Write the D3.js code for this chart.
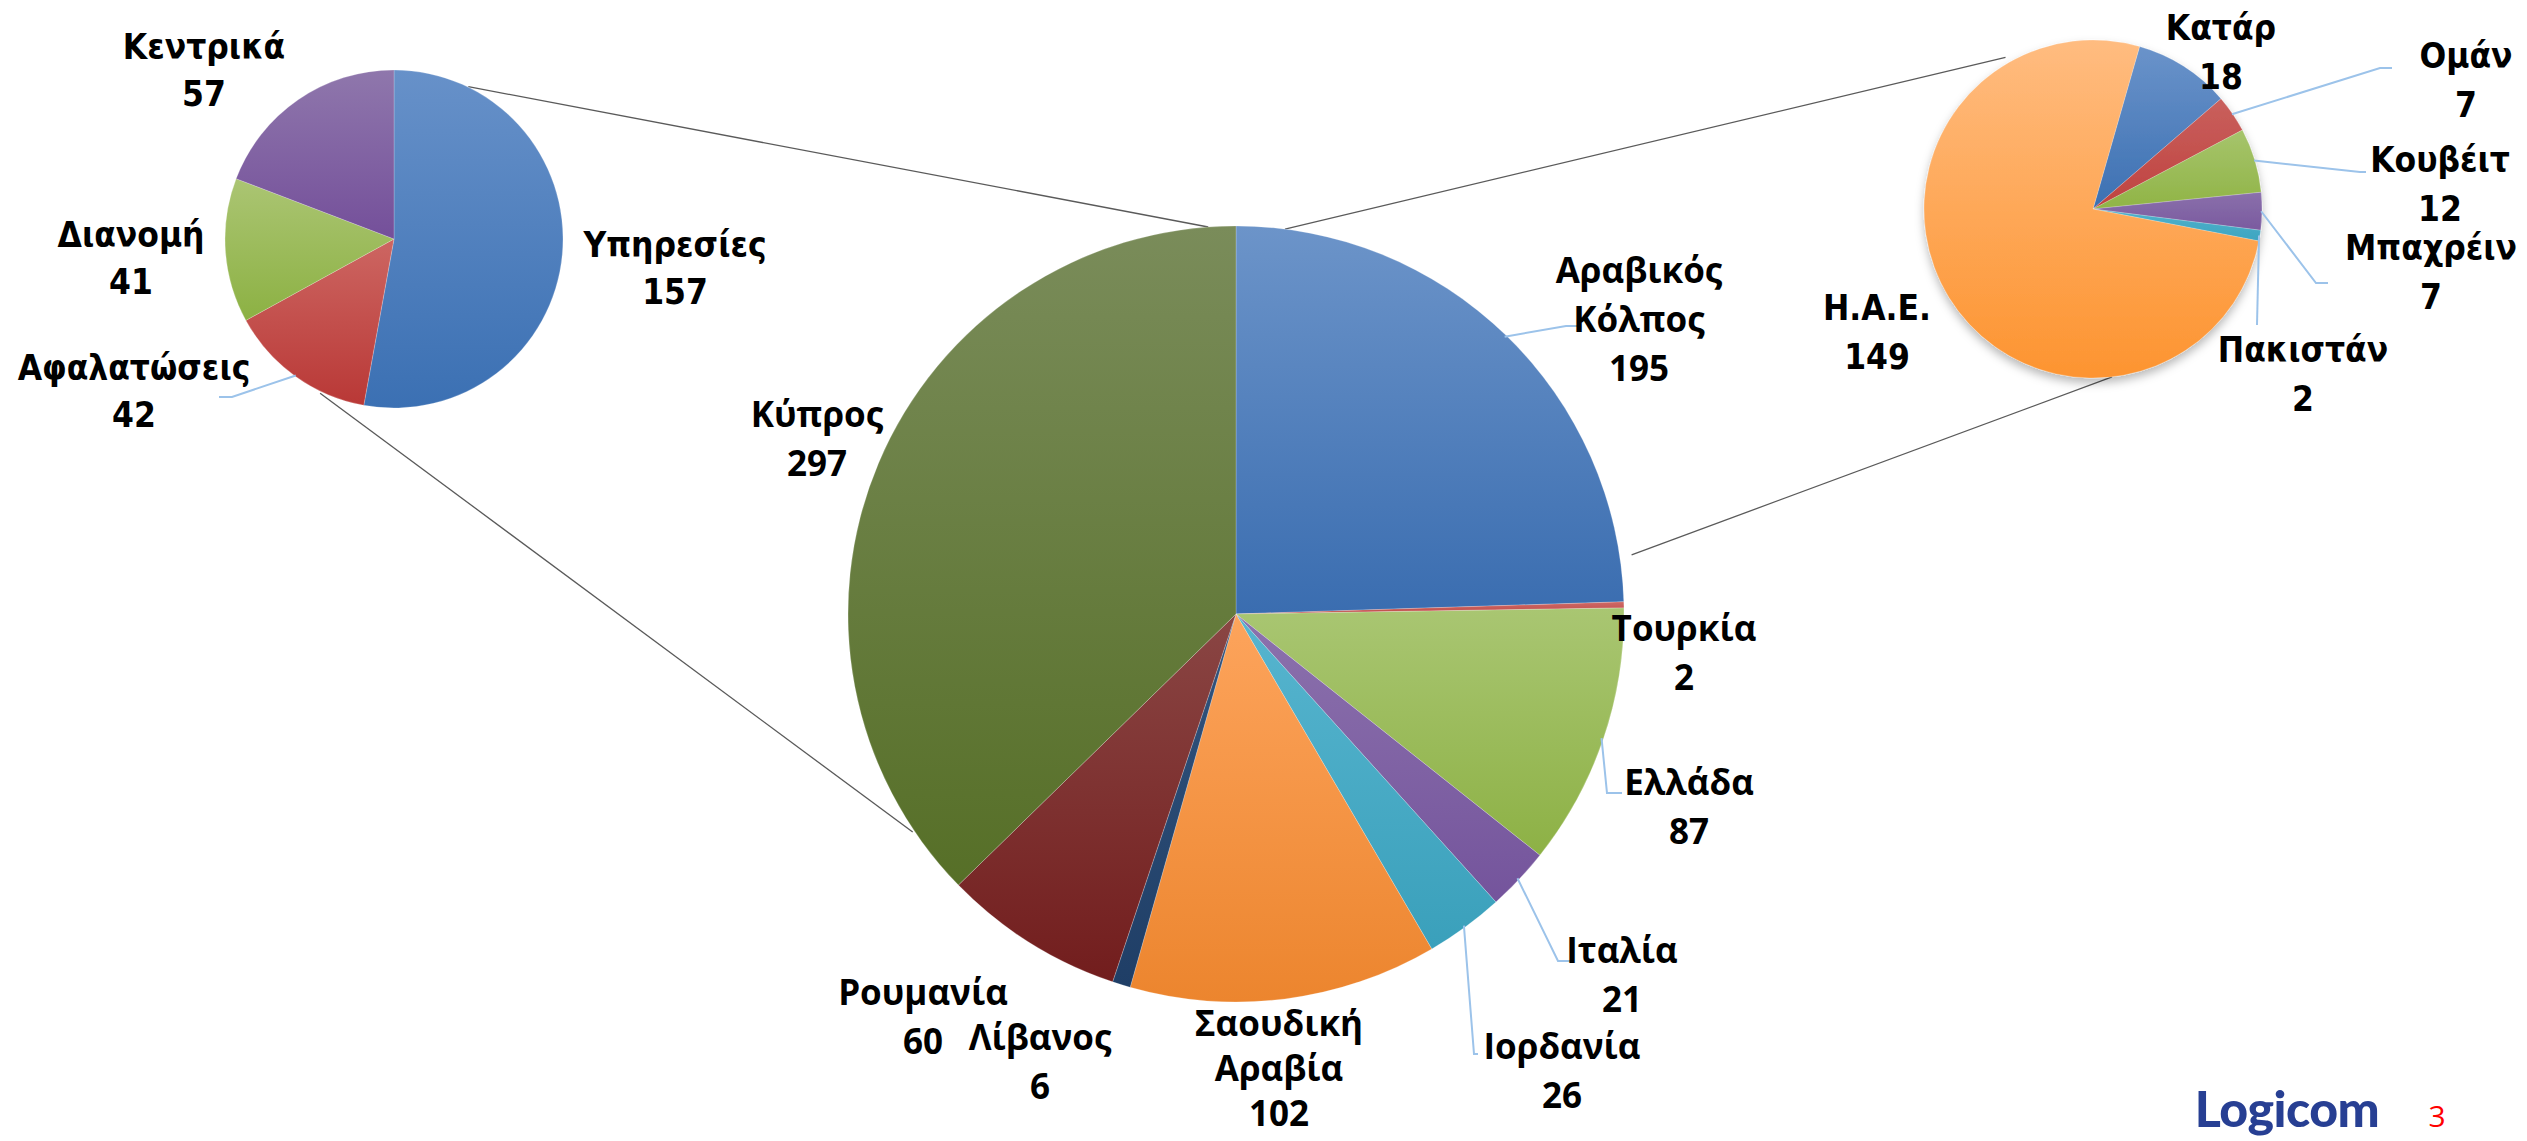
<!DOCTYPE html>
<html>
<head>
<meta charset="utf-8">
<script src="https://cdn.jsdelivr.net/npm/d3@7/dist/d3.min.js"></script>
<style>
  html, body { margin: 0; padding: 0; background: #ffffff; }
  svg { display: block; }
</style>
</head>
<body>
<svg id="chart" width="2527" height="1141"></svg>
<script>
// ---------------- DATA ----------------
const mainLabels = ["Αραβικός Κόλπος", "Τουρκία", "Ελλάδα", "Ιταλία", "Ιορδανία", "Σαουδική Αραβία", "Λίβανος", "Ρουμανία", "Κύπρος"];
const mainValues = [195, 2, 87, 21, 26, 102, 6, 60, 297];

const cyprusLabels = ["Υπηρεσίες", "Αφαλατώσεις", "Διανομή", "Κεντρικά"];
const cyprusValues = [157, 42, 41, 57];

const gulfLabels = ["Κατάρ", "Ομάν", "Κουβέιτ", "Μπαχρέιν", "Πακιστάν", "Η.Α.Ε."];
const gulfValues = [18, 7, 12, 7, 2, 149];

const pageNumber = "3";
const logoText = "Logicom";

// ---------------- LAYOUT / STYLE ----------------
const deg = Math.PI / 180;
const svg = d3.select("#chart");
const defs = svg.append("defs");

defs.append("filter").attr("id", "shadow").attr("x", "-20%").attr("y", "-20%").attr("width", "140%").attr("height", "150%")
  .append("feDropShadow").attr("dx", 0).attr("dy", 5).attr("stdDeviation", 5)
  .attr("flood-color", "#000").attr("flood-opacity", 0.28);

const pies = {
  main: {
    cx: 1236, cy: 614, r: 388, start: 0,
    labels: mainLabels, values: mainValues,
    colors: [["#6c94c9", "#3a6db0"], ["#cf6a66", "#bf4a47"], ["#a9c672", "#8db145"], ["#8c72ad", "#74549c"],
             ["#57b5cf", "#3aa0bb"], ["#fda45c", "#ec852e"], ["#33557f", "#1f3e66"], ["#8a4644", "#721d1d"],
             ["#7a8c5a", "#566f27"]],
    font: "'Open Sans', 'DejaVu Sans', sans-serif", size: 35, step: 49,
    // label centre of first line
    labelPos: [[1639, 269], [1684, 627], [1689, 781], [1622, 949], [1562, 1045], [1279, 1022], [1040, 1036], [923, 991], [817, 413]],
    leaders: { 0: [[1566, 326], [1578, 326]], 2: [[1607, 793], [1622, 793]], 3: [[1558, 961], [1572, 961]], 4: [[1474, 1054], [1478, 1054]] },
    shadow: false
  },
  cyprus: {
    cx: 394, cy: 239, r: 169, start: 0,
    labels: cyprusLabels, values: cyprusValues,
    colors: [["#6791c9", "#3b70b3"], ["#cd6662", "#b93836"], ["#abc573", "#8cb143"], ["#8f77ac", "#744f9a"]],
    font: "'DejaVu Sans Condensed', 'DejaVu Sans', sans-serif", size: 35, step: 47,
    labelPos: [[675, 245], [134, 368], [131, 235], [204, 47]],
    leaders: { 1: [[232, 397], [219, 397]] },
    shadow: false
  },
  gulf: {
    cx: 2093, cy: 209, r: 169, start: 16 * deg,
    labels: gulfLabels, values: gulfValues,
    colors: [["#6a93ca", "#3c70b2"], ["#c9605d", "#bf423f"], ["#a6c46c", "#90b446"], ["#8a70ab", "#7a5a9f"],
             ["#4fb1cb", "#3ea5c1"], ["#ffbc80", "#fd9430"]],
    font: "'DejaVu Sans Condensed', 'DejaVu Sans', sans-serif", size: 35, step: 49,
    labelPos: [[2221, 28], [2466, 56], [2440, 160], [2431, 248], [2303, 350], [1877, 308]],
    leaders: { 1: [[2380, 68], [2392, 68]], 2: [[2360, 172], [2366, 172]], 3: [[2316, 283], [2328, 283]], 4: [[2257, 325]] },
    shadow: true
  }
};

function polar(p, angle, rr) {
  return [p.cx + rr * Math.sin(angle), p.cy - rr * Math.cos(angle)];
}

// connector lines between pies (drawn beneath)
const connectors = [
  { a: ["main", -4.1, 388], b: ["cyprus", 26, 169.5] },
  { a: ["main", 236, 390], b: ["cyprus", 205.6, 171] },
  { a: ["main", 7.25, 388], b: ["gulf", 330, 175] },
  { a: ["main", 81.5, 400], b: ["gulf", 173.5, 169] }
];
const connG = svg.append("g");
connectors.forEach(c => {
  const p1 = polar(pies[c.a[0]], c.a[1] * deg, c.a[2]);
  const p2 = polar(pies[c.b[0]], c.b[1] * deg, c.b[2]);
  connG.append("line")
    .attr("x1", p1[0]).attr("y1", p1[1]).attr("x2", p2[0]).attr("y2", p2[1])
    .attr("stroke", "#5a5a5a").attr("stroke-width", 1.3);
});

Object.entries(pies).forEach(([key, p]) => {
  const pie = d3.pie().sort(null).startAngle(p.start).endAngle(p.start + 2 * Math.PI);
  const arcs = pie(p.values);
  const arc = d3.arc().innerRadius(0).outerRadius(p.r);

  p.colors.forEach((c, i) => {
    const g = defs.append("linearGradient").attr("id", `g-${key}-${i}`)
      .attr("x1", 0).attr("y1", 0).attr("x2", 0).attr("y2", 1);
    g.append("stop").attr("offset", "0%").attr("stop-color", c[0]);
    g.append("stop").attr("offset", "100%").attr("stop-color", c[1]);
  });

  const g = svg.append("g").attr("transform", `translate(${p.cx},${p.cy})`);
  if (p.shadow) g.attr("filter", "url(#shadow)");
  g.selectAll("path").data(arcs).join("path")
    .attr("d", arc)
    .attr("fill", (d, i) => `url(#g-${key}-${i})`)
    .attr("stroke", "rgba(255,255,255,0.35)")
    .attr("stroke-width", 0.6);

  // leader lines
  const lg = svg.append("g");
  arcs.forEach((d, i) => {
    const pts = p.leaders[i];
    if (!pts) return;
    const mid = (d.startAngle + d.endAngle) / 2;
    const s = polar(p, mid, p.r * 0.995);
    lg.append("path")
      .attr("d", d3.line()([s, ...pts]))
      .attr("fill", "none").attr("stroke", "#9cc3ea").attr("stroke-width", 2);
  });

  // labels
  const tg = svg.append("g")
    .attr("font-family", p.font).attr("font-weight", "bold").attr("font-size", p.size)
    .attr("fill", "#000").attr("text-anchor", "middle");
  arcs.forEach((d, i) => {
    const lines = p.labels[i].split(" ").concat([String(p.values[i])]);
    const [x, y] = p.labelPos[i];
    const stp = (key === "main" && i === 5) ? 45 : p.step;
    const t = tg.append("text").attr("x", x).attr("y", y).attr("dominant-baseline", "central");
    lines.forEach((ln, j) => {
      t.append("tspan").attr("x", x).attr("y", y + j * stp).attr("dominant-baseline", "central").text(ln);
    });
  });
});

// logo and page number
svg.append("text").attr("x", 2287).attr("y", 1127).attr("text-anchor", "middle")
  .attr("font-family", "Lato, 'Open Sans', sans-serif").attr("font-weight", 900).attr("font-size", 50)
  .attr("fill", "#273f93").attr("letter-spacing", -0.5).text(logoText);
svg.append("text").attr("x", 2437).attr("y", 1115).attr("text-anchor", "middle").attr("dominant-baseline", "central")
  .attr("font-family", "'Open Sans', sans-serif").attr("font-size", 30).attr("fill", "#ff0000").text(pageNumber);
</script>
</body>
</html>
